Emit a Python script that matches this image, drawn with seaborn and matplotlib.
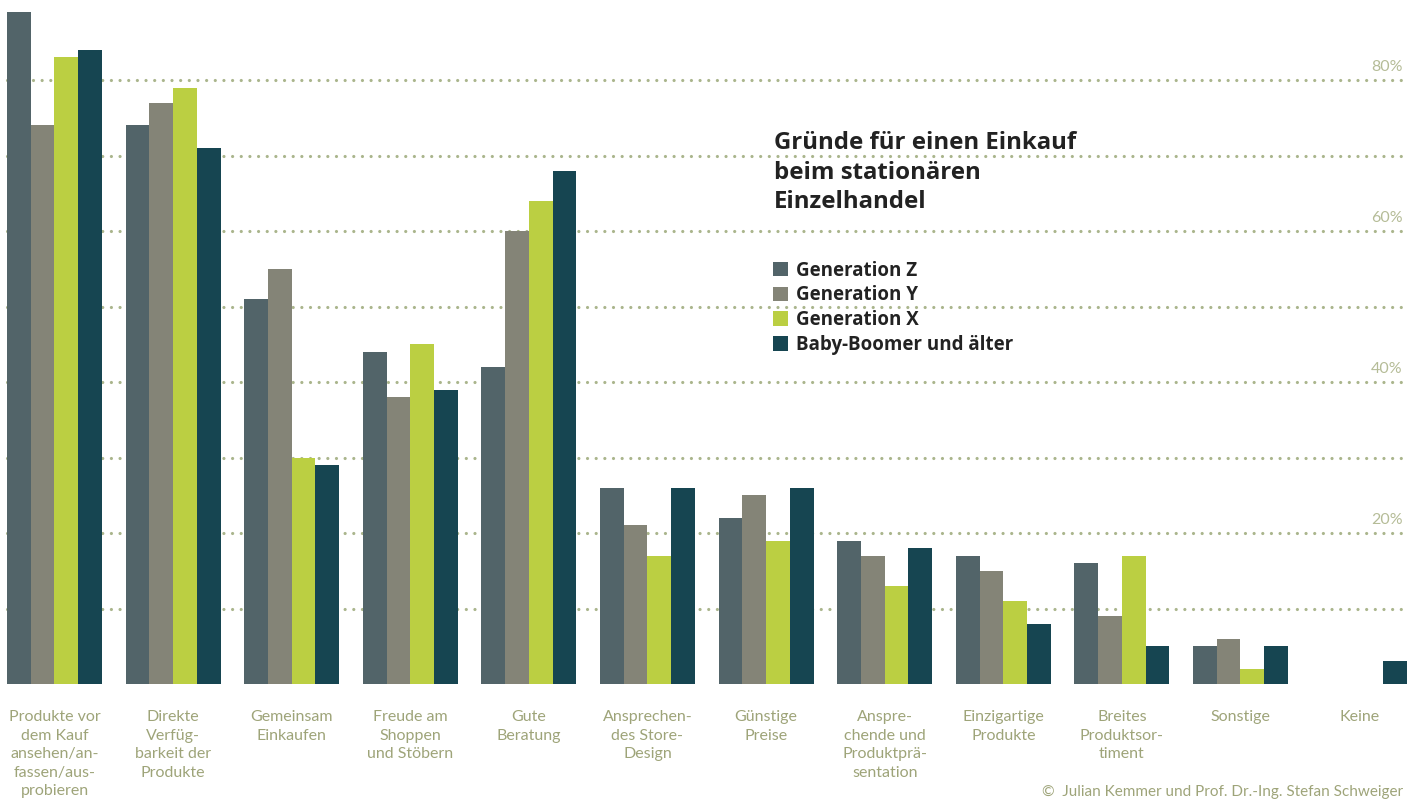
import pandas as pd
import numpy as np
import matplotlib.pyplot as plt
import seaborn as sns

categories = ['Produkte vor\ndem Kauf\nansehen/an-\nfassen/aus-\nprobieren',
              'Direkte\nVerfüg-\nbarkeit der\nProdukte',
              'Gemeinsam\nEinkaufen',
              'Freude am\nShoppen\nund Stöbern',
              'Gute\nBeratung',
              'Ansprechen-\ndes Store-\nDesign',
              'Günstige\nPreise',
              'Anspre-\nchende und\nProduktprä-\nsentation',
              'Einzigartige\nProdukte',
              'Breites\nProduktsor-\ntiment',
              'Sonstige',
              'Keine']
generations = ['Generation Z', 'Generation Y', 'Generation X', 'Baby-Boomer und älter']
gen_z = [89, 74, 51, 44, 42, 26, 22, 19, 17, 16, 5, 0]
gen_y = [74, 77, 55, 38, 60, 21, 25, 17, 15, 9, 6, 0]
gen_x = [83, 79, 30, 45, 64, 17, 19, 13, 11, 17, 2, 0]
boomer = [84, 71, 29, 39, 68, 26, 26, 18, 8, 5, 5, 3]
colors = ['#526469', '#848477', '#bbcf42', '#164551']
grid_color = '#aab58c'
text_color = '#9ea479'

df = pd.DataFrame({
    'Grund': categories * 4,
    'Generation': np.repeat(generations, len(categories)),
    'Anteil': gen_z + gen_y + gen_x + boomer,
})

sns.set_style('white')
plt.rcParams['font.family'] = ['Lato', 'DejaVu Sans']

fig = plt.figure(figsize=(14.07, 8), dpi=100)
ax = fig.add_axes([0, 0.145, 1, 0.855])

sns.barplot(data=df, x='Grund', y='Anteil', hue='Generation', palette=colors,
            saturation=1, width=0.8, errorbar=None, ax=ax, zorder=3,
            linewidth=0, edgecolor='none')

ax.set_xlim(-0.4595, 11.404)
ax.set_ylim(0, 90.6)
for v in range(10, 90, 10):
    ax.axhline(v, color=grid_color, linestyle=(0, (0.01, 2.7)), linewidth=2.3,
               dash_capstyle='round', zorder=1, xmin=0.005)
for v in [20, 40, 60, 80]:
    ax.text(0.997, v + 0.8, f'{v}%', transform=ax.get_yaxis_transform(),
            ha='right', va='bottom', fontsize=11.5, color='#b5bc97')

for s in ax.spines.values():
    s.set_visible(False)
ax.set_yticks([])
ax.set_xlabel('')
ax.set_ylabel('')
ax.tick_params(axis='x', length=0, pad=19, labelsize=11.5, labelcolor=text_color)
for lbl in ax.get_xticklabels():
    lbl.set_linespacing(1.4)

fig.text(0.55, 0.836, 'Gründe für einen Einkauf\nbeim stationären\nEinzelhandel',
         fontsize=17.3, fontweight='bold', color='#222222', va='top', ha='left',
         linespacing=1.3, family=['Open Sans', 'DejaVu Sans'])

leg = ax.legend(loc='upper left', bbox_to_anchor=(0.5495, 0.674),
                bbox_transform=fig.transFigure, frameon=False,
                prop={'family': 'Open Sans', 'weight': 'bold', 'size': 13.5},
                handlelength=0.8, handleheight=0.8, handletextpad=0.4,
                labelspacing=0.25, borderaxespad=0, borderpad=0)
for t in leg.get_texts():
    t.set_color('#222222')

fig.text(0.997, 0.001, '©  Julian Kemmer und Prof. Dr.-Ing. Stefan Schweiger',
         ha='right', va='bottom', fontsize=11, color=text_color)

fig.savefig('out.png', dpi=100)
